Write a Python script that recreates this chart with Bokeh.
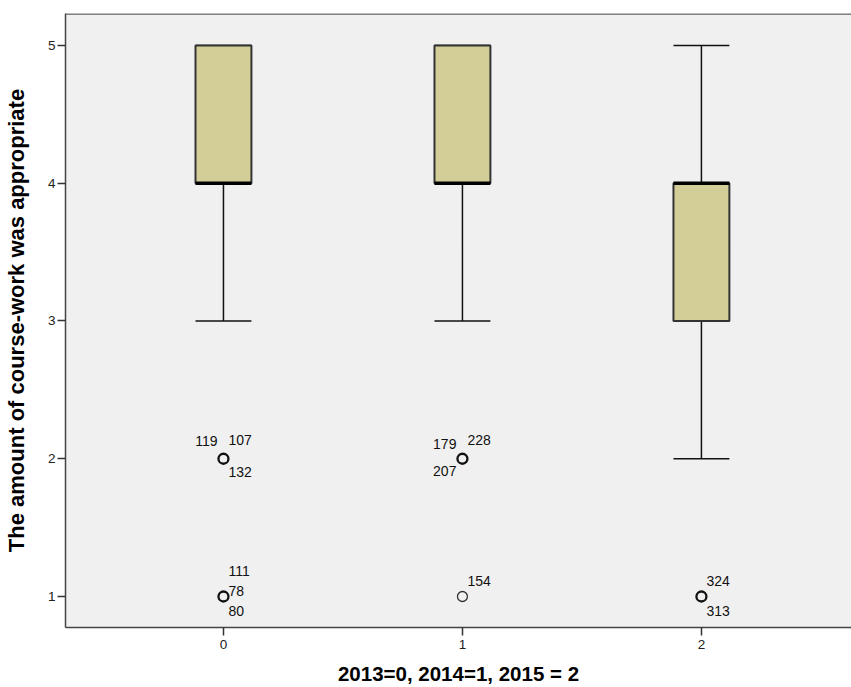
from bokeh.plotting import figure
from bokeh.models import Range1d, FixedTicker, ColumnDataSource
from bokeh.embed import file_html
from bokeh.resources import INLINE
from bokeh.core.properties import value

# ---- data ----
categories = [0, 1, 2]
q1 = [4, 4, 3]
median = [4, 4, 4]
q3 = [5, 5, 4]
whisker_low = [3, 3, 2]
whisker_high = [5, 5, 5]

# outlier points (category, value, thick = several cases overlap)
out_x = [0, 0, 1, 1, 2]
out_y = [2, 1, 2, 1, 1]
out_thick = [True, True, True, False, True]

# case-number labels for outliers
lab_x = [0, 0, 0, 0, 0, 0, 1, 1, 1, 1, 2, 2]
lab_y = [2, 2, 2, 1, 1, 1, 2, 2, 2, 1, 1, 1]
lab_text = ["119", "107", "132", "111", "78", "80", "179", "228", "207", "154", "324", "313"]
# label placement (style): side and vertical offset in px
lab_align = ["right", "left", "left", "left", "left", "left", "right", "left", "right", "left", "left", "left"]
lab_dy = [-18, -19, 13, -26, -6, 14, -15, -19, 12, -16, -16, 14]

y_ticks = [1, 2, 3, 4, 5]
x_ticks = [0, 1, 2]

FONT = "Liberation Sans"
BOX_FILL = "#D3CE97"
BG = "#F0F0F0"

XMIN, XMAX = -0.661, 2.628
YMIN, YMAX = 0.775, 5.232

p = figure(width=851, height=687, output_backend="svg", toolbar_location=None,
           x_range=Range1d(XMIN, XMAX), y_range=Range1d(YMIN, YMAX),
           min_border_left=65, min_border_top=13, min_border_right=0, min_border_bottom=60)

p.background_fill_color = BG
p.border_fill_color = "white"
p.outline_line_color = None
p.xgrid.grid_line_color = None
p.ygrid.grid_line_color = None

# top frame border
p.segment(x0=[XMIN], x1=[XMAX], y0=[YMAX], y1=[YMAX], line_color="#808080", line_width=3)

bw = 0.234
src = ColumnDataSource(dict(x=categories, q1=q1, med=median, q3=q3, lo=whisker_low, hi=whisker_high))

# whiskers
p.segment(x0="x", x1="x", y0="lo", y1="q1", source=src, line_color="#111111", line_width=1.5)
p.segment(x0="x", x1="x", y0="q3", y1="hi", source=src, line_color="#111111", line_width=1.5)
cl = [c - bw / 2 for c in categories]
cr = [c + bw / 2 for c in categories]
p.segment(x0=cl, x1=cr, y0=whisker_low, y1=whisker_low, line_color="#111111", line_width=1.5)
p.segment(x0=cl, x1=cr, y0=whisker_high, y1=whisker_high, line_color="#111111", line_width=1.5)

# boxes
p.vbar(x="x", bottom="q1", top="q3", width=bw, source=src, fill_color=BOX_FILL,
       line_color="#333333", line_width=2)
# median
p.segment(x0=cl, x1=cr, y0=median, y1=median, line_color="#000000", line_width=3.5)

# outliers
thick_x = [x for x, t in zip(out_x, out_thick) if t]
thick_y = [y for y, t in zip(out_y, out_thick) if t]
thin_x = [x for x, t in zip(out_x, out_thick) if not t]
thin_y = [y for y, t in zip(out_y, out_thick) if not t]
p.scatter(thick_x, thick_y, marker="circle", size=10, fill_color=None, line_color="#111111", line_width=2.3)
p.scatter(thin_x, thin_y, marker="circle", size=10, fill_color=None, line_color="#333333", line_width=1.3)

# labels
lab_dx = [-6 if a == "right" else 5 for a in lab_align]
lsrc = ColumnDataSource(dict(x=lab_x, y=lab_y, t=lab_text, a=lab_align, dx=lab_dx, dy=lab_dy))
p.text(x="x", y="y", text="t", text_align="a", x_offset="dx", y_offset="dy", source=lsrc,
       text_font=value(FONT), text_font_size="14px", text_color="#111111", text_baseline="middle")

# axes
for ax in (p.xaxis[0], p.yaxis[0]):
    ax.axis_line_color = "#444444"
    ax.axis_line_width = 1.5
    ax.major_tick_line_color = "#333333"
    ax.major_tick_line_width = 1.5
    ax.major_tick_out = 8
    ax.major_tick_in = 0
    ax.minor_tick_line_color = None
    ax.major_label_text_font = FONT
    ax.major_label_text_font_size = "13.5px"
    ax.major_label_text_color = "#222222"
    ax.axis_label_text_font = FONT
    ax.axis_label_text_font_style = "bold"
    ax.axis_label_text_color = "#000000"

p.xaxis.ticker = FixedTicker(ticks=x_ticks)
p.yaxis.ticker = FixedTicker(ticks=y_ticks)
p.xaxis.axis_label = "2013=0, 2014=1, 2015 = 2"
p.yaxis.axis_label = "The amount of course-work was appropriate"
p.xaxis.axis_label_text_font_size = "20.5px"
p.yaxis.axis_label_text_font_size = "22px"
p.xaxis.major_label_standoff = 4
p.yaxis.major_label_standoff = 2
p.xaxis.axis_label_standoff = 10
p.yaxis.axis_label_standoff = 16

open("out.html", "w").write(file_html(p, INLINE))
